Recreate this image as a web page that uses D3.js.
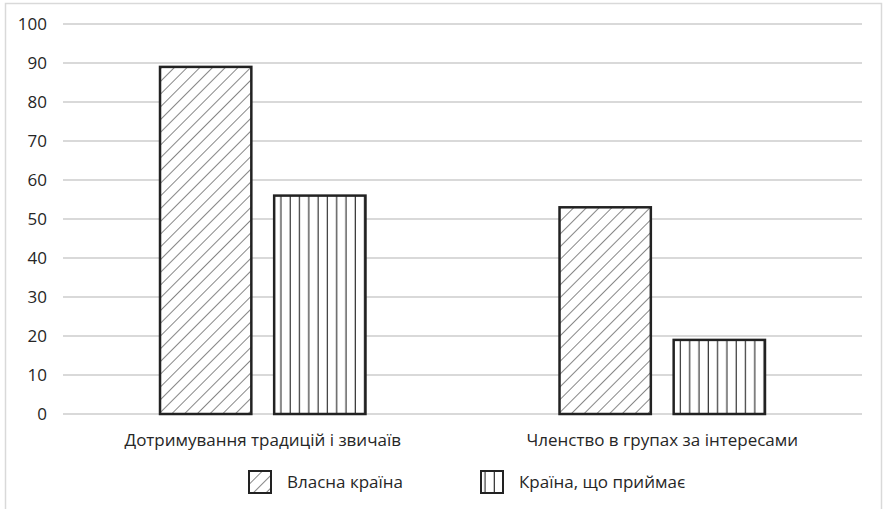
<!DOCTYPE html>
<html><head><meta charset="utf-8">
<script src="https://cdn.jsdelivr.net/npm/d3@7"></script>
<style>body{margin:0;background:#fff}svg{display:block}</style>
</head><body>
<script>
const categories = ["Дотримування традицій і звичаїв", "Членство в групах за інтересами"];
const seriesNames = ["Власна країна", "Країна, що приймає"];
const ownCountry = [89, 53];
const hostCountry = [56, 19];
const yTicks = [0,10,20,30,40,50,60,70,80,90,100];

const W = 884, H = 509;
const m = {left: 63, right: 22, top: 24, bottom: 95};
const svg = d3.select("body").append("svg").attr("width", W).attr("height", H);
const defs = svg.append("defs");
const diag = defs.append("pattern").attr("id","diag").attr("patternUnits","userSpaceOnUse")
  .attr("width",9).attr("height",9).attr("patternTransform","rotate(45)");
diag.append("line").attr("x1",0).attr("y1",0).attr("x2",0).attr("y2",9).attr("stroke","#222").attr("stroke-width",1.1);
const vert = defs.append("pattern").attr("id","vert").attr("patternUnits","userSpaceOnUse")
  .attr("width",9.3).attr("height",10);
vert.append("line").attr("x1",4).attr("y1",0).attr("x2",4).attr("y2",10).attr("stroke","#222").attr("stroke-width",1.1);

svg.append("rect").attr("x",5.5).attr("y",3.5).attr("width",876).attr("height",520)
  .attr("fill","none").attr("stroke","#d9d9d9").attr("stroke-width",1.5);

const y = d3.scaleLinear().domain([0,100]).range([414, 24]);
const x0 = d3.scaleBand().domain(categories).range([m.left, W - m.right]);
const x1 = d3.scaleBand().domain(seriesNames).range([0, x0.bandwidth()]).paddingInner(0.2).paddingOuter(0.85);

const font = "'Open Sans', sans-serif";
const fs = 17;
const g = svg.append("g");
g.selectAll("line.grid").data(yTicks).join("line")
  .attr("x1", m.left).attr("x2", W - m.right)
  .attr("y1", d => y(d)).attr("y2", d => y(d))
  .attr("stroke","#d9d9d9").attr("stroke-width",2);
g.selectAll("text.yt").data(yTicks).join("text")
  .attr("x", 47).attr("y", d => y(d)).attr("dy","0.35em").attr("text-anchor","end")
  .attr("font-family",font).attr("font-size",fs).attr("fill","#262626").text(d => d);

const patterns = ["url(#diag)", "url(#vert)"];
const data = categories.map((c,i) => ({c, vals: [ownCountry[i], hostCountry[i]]}));
const grp = g.selectAll("g.grp").data(data).join("g").attr("transform", d => `translate(${x0(d.c)},0)`);
grp.selectAll("rect").data(d => d.vals.map((v,j) => ({v, s: seriesNames[j], j}))).join("rect")
  .attr("x", d => x1(d.s)).attr("width", x1.bandwidth())
  .attr("y", d => y(d.v)).attr("height", d => y(0) - y(d.v))
  .attr("fill", "#fff").attr("stroke","none");
grp.selectAll("rect.p").data(d => d.vals.map((v,j) => ({v, s: seriesNames[j], j}))).join("rect")
  .attr("class","p")
  .attr("x", d => x1(d.s)).attr("width", x1.bandwidth())
  .attr("y", d => y(d.v)).attr("height", d => y(0) - y(d.v))
  .attr("fill", d => patterns[d.j]).attr("stroke","#222").attr("stroke-width",2.5);

g.selectAll("text.cat").data(categories).join("text")
  .attr("x", d => x0(d) + x0.bandwidth()/2).attr("y", 440).attr("dy","0.35em")
  .attr("text-anchor","middle").attr("font-family",font).attr("font-size",fs).attr("fill","#262626").text(d => d);

const legX = [249, 481];
const leg = g.selectAll("g.leg").data(seriesNames).join("g").attr("transform",(d,i)=>`translate(${legX[i]},471)`);
leg.append("rect").attr("width",22).attr("height",22).attr("fill",(d,i)=>patterns[i]).attr("stroke","#222").attr("stroke-width",2);
leg.append("text").attr("x",38).attr("y",11).attr("dy","0.35em").attr("font-family",font).attr("font-size",fs).attr("fill","#262626").text(d=>d);
</script>
</body></html>
